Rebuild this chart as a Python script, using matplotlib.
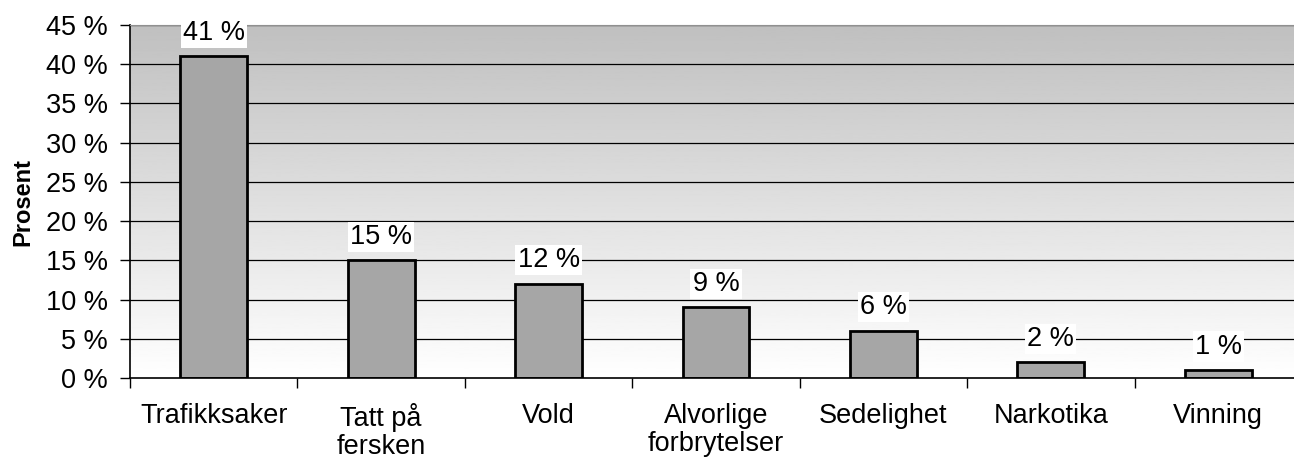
import matplotlib
matplotlib.use("Agg")
import matplotlib.pyplot as plt
import numpy as np

categories = ["Trafikksaker", "Tatt på\nfersken", "Vold", "Alvorlige\nforbrytelser",
              "Sedelighet", "Narkotika", "Vinning"]
values = [41, 15, 12, 9, 6, 2, 1]
yticks = [0, 5, 10, 15, 20, 25, 30, 35, 40, 45]
ytick_labels = [f"{v} %" for v in yticks]

plt.rcParams['font.family'] = ['Liberation Sans', 'DejaVu Sans']
FS = 19.5

fig = plt.figure(figsize=(12.94, 4.61), dpi=100)
ax = fig.add_axes([130/1294, 1 - 378/461, 1172/1294, (378-25)/461])

# gradient background
grad = np.linspace(1.0, 0.75, 256).reshape(-1, 1)
ax.imshow(grad, cmap='gray', vmin=0, vmax=1, aspect='auto',
          extent=[-0.5, len(categories) - 0.5, 0, 45], origin='lower', zorder=0)

x = np.arange(len(categories))
ax.set_xlim(-0.5, len(categories) - 0.5)
ax.set_ylim(0, 45)

for y in yticks[1:]:
    ax.axhline(y, color='black', lw=0.9, zorder=1)

ax.bar(x, values, width=0.4, color='#A6A6A6', edgecolor='black', linewidth=2.0, zorder=2)

for xi, v in zip(x, values):
    ax.annotate(f"{v} %", (xi, v), xytext=(0, 17), textcoords='offset points',
                ha='center', va='center', fontsize=FS,
                bbox=dict(facecolor='white', edgecolor='none', pad=1.5), zorder=3)

ax.set_yticks(yticks)
ax.set_yticklabels(ytick_labels, fontsize=FS)
ax.set_xticks(x)
ax.set_xticklabels(categories, fontsize=FS, linespacing=1.1)
ax.tick_params(axis='x', length=0, pad=18)
ax.set_xticks(np.arange(-0.5, len(categories) - 0.4, 1), minor=True)
ax.tick_params(axis='x', which='minor', length=7, width=1, direction='out')
ax.tick_params(axis='y', length=7, width=1, direction='out', pad=9)

ax.set_ylabel("Prosent", fontsize=17, fontweight='bold', labelpad=8)

ax.spines['right'].set_visible(False)
ax.spines['top'].set_color('#909090')
ax.spines['left'].set_linewidth(1.2)
ax.spines['bottom'].set_linewidth(1.2)

fig.savefig("out.png", dpi=100)
